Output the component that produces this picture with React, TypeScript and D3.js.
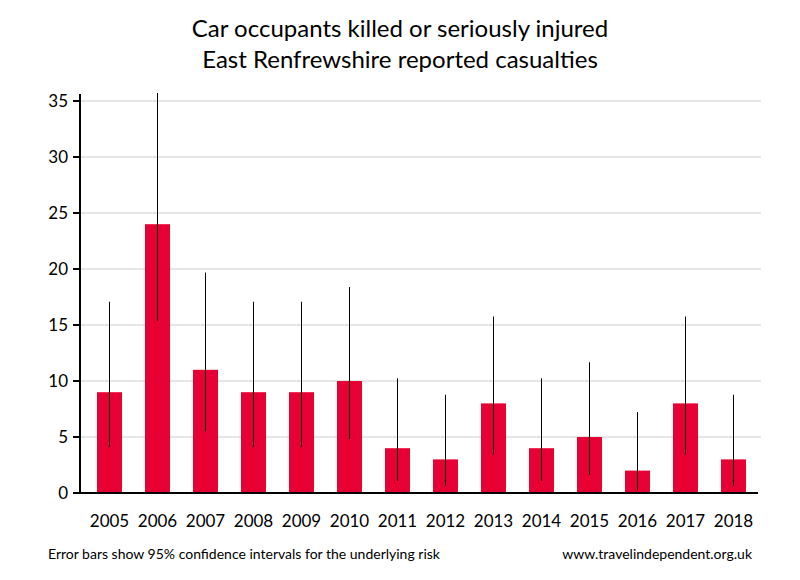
import React, { useEffect, useRef } from "react";
import * as d3 from "d3";

const years = ["2005","2006","2007","2008","2009","2010","2011","2012","2013","2014","2015","2016","2017","2018"];
const casualties = [9, 24, 11, 9, 9, 10, 4, 3, 8, 4, 5, 2, 8, 3];
const lowerCI = [4.12, 15.38, 5.49, 4.12, 4.12, 4.80, 1.09, 0.62, 3.45, 1.09, 1.62, 0.24, 3.45, 0.62];
const upperCI = [17.08, 35.71, 19.68, 17.08, 17.08, 18.39, 10.24, 8.77, 15.76, 10.24, 11.67, 7.22, 15.76, 8.77];
const yTicks = [0, 5, 10, 15, 20, 25, 30, 35];
const titleLines = ["Car occupants killed or seriously injured", "East Renfrewshire reported casualties"];
const footerLeft = "Error bars show 95% confidence intervals for the underlying risk";
const footerRight = "www.travelindependent.org.uk";

const FONT = "Lato, 'Open Sans', sans-serif";

export default function App() {
  const ref = useRef<SVGSVGElement | null>(null);

  useEffect(() => {
    const svg = d3.select(ref.current);
    svg.selectAll("*").remove();

    const x = d3.scaleBand<string>().domain(years).range([85.5, 757.5]).padding(0);
    const y = d3.scaleLinear().domain([0, 35]).range([493, 101]);
    const barW = 25;

    svg.append("text").attr("x", 400).attr("y", 37).attr("text-anchor", "middle")
      .attr("font-family", FONT).attr("font-size", 24).attr("fill", "#000").text(titleLines[0]);
    svg.append("text").attr("x", 400).attr("y", 68).attr("text-anchor", "middle")
      .attr("font-family", FONT).attr("font-size", 24).attr("fill", "#000").text(titleLines[1]);

    // gridlines
    svg.append("g").selectAll("line").data(yTicks.filter(t => t > 0)).join("line")
      .attr("x1", 81).attr("x2", 761)
      .attr("y1", d => y(d)).attr("y2", d => y(d))
      .attr("stroke", "#e6e6e6").attr("stroke-width", 2);

    // bars
    svg.append("g").selectAll("rect").data(years).join("rect")
      .attr("x", (d) => x(d)! + x.bandwidth() / 2 - barW / 2)
      .attr("width", barW)
      .attr("y", (d, i) => y(casualties[i]))
      .attr("height", (d, i) => y(0) - y(casualties[i]))
      .attr("fill", "#e60033");

    // error bars
    svg.append("g").selectAll("line").data(years).join("line")
      .attr("x1", d => x(d)! + x.bandwidth() / 2)
      .attr("x2", d => x(d)! + x.bandwidth() / 2)
      .attr("y1", (d, i) => y(lowerCI[i]))
      .attr("y2", (d, i) => y(upperCI[i]))
      .attr("stroke", "#000").attr("stroke-width", 1);

    // y axis
    svg.append("line").attr("x1", 80).attr("x2", 80).attr("y1", 94).attr("y2", 494)
      .attr("stroke", "#000").attr("stroke-width", 2);
    svg.append("g").selectAll("line").data(yTicks).join("line")
      .attr("x1", 73).attr("x2", 80).attr("y1", d => y(d)).attr("y2", d => y(d))
      .attr("stroke", "#000").attr("stroke-width", 2);
    svg.append("g").selectAll("text").data(yTicks).join("text")
      .attr("x", 68).attr("y", d => y(d) + 6).attr("text-anchor", "end")
      .attr("font-family", FONT).attr("font-size", 17).attr("fill", "#000")
      .text(d => String(d));

    // x axis
    svg.append("line").attr("x1", 79).attr("x2", 758).attr("y1", 493).attr("y2", 493)
      .attr("stroke", "#000").attr("stroke-width", 2);
    svg.append("g").selectAll("text").data(years).join("text")
      .attr("x", d => x(d)! + x.bandwidth() / 2).attr("y", 527).attr("text-anchor", "middle")
      .attr("font-family", FONT).attr("font-size", 17).attr("fill", "#000")
      .text(d => d);

    svg.append("text").attr("x", 48).attr("y", 559)
      .attr("font-family", FONT).attr("font-size", 14).attr("fill", "#000").text(footerLeft);
    svg.append("text").attr("x", 752).attr("y", 559).attr("text-anchor", "end")
      .attr("font-family", FONT).attr("font-size", 14).attr("fill", "#000").text(footerRight);
  }, []);

  return (
    <svg ref={ref} width={800} height={580}
      style={{ position: "absolute", left: 0, top: 0, background: "#fff" }} />
  );
}
